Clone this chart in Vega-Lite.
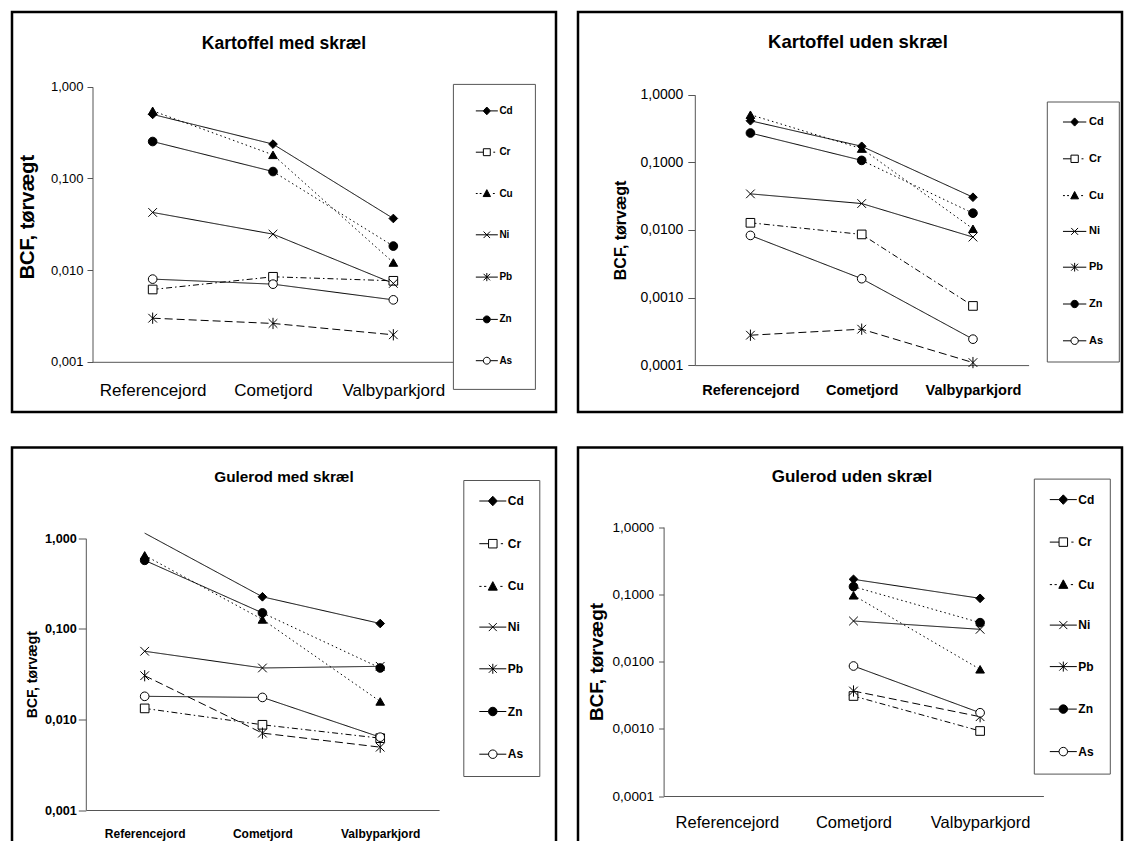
{
  "$schema": "https://vega.github.io/schema/vega-lite/v6.json",
  "background": "white",
  "padding": {"left": 10, "top": 10, "right": 0, "bottom": 0},
  "config": {
    "view": {"stroke": "black", "strokeWidth": 2.5},
    "font": "Liberation Sans",
    "locale": {"number": {"decimal": ",", "thousands": ".", "grouping": [3], "currency": ["", " kr."]}},
    "axis": {"grid": false, "domainColor": "#555", "tickColor": "#555", "labelColor": "black", "titleColor": "black", "labelFont": "Liberation Sans", "titleFont": "Liberation Sans", "domainWidth": 1, "tickWidth": 1},
    "legend": {"labelFont": "Liberation Sans", "labelColor": "black", "labelFontWeight": "bold", "strokeColor": "#555", "fillColor": "white", "symbolStrokeColor": "black", "symbolStrokeWidth": 1, "symbolOpacity": 1},
    "title": {"font": "Liberation Sans", "color": "black", "fontWeight": "bold"}
  },
  "datasets": {
    "p1": [
      {"m": "Cd", "s": "Referencejord", "v": 0.50}, {"m": "Cd", "s": "Cometjord", "v": 0.237}, {"m": "Cd", "s": "Valbyparkjord", "v": 0.0366},
      {"m": "Cr", "s": "Referencejord", "v": 0.00615}, {"m": "Cr", "s": "Cometjord", "v": 0.00846}, {"m": "Cr", "s": "Valbyparkjord", "v": 0.00765},
      {"m": "Cu", "s": "Referencejord", "v": 0.547}, {"m": "Cu", "s": "Cometjord", "v": 0.181}, {"m": "Cu", "s": "Valbyparkjord", "v": 0.0121},
      {"m": "Ni", "s": "Referencejord", "v": 0.0426}, {"m": "Ni", "s": "Cometjord", "v": 0.0247}, {"m": "Ni", "s": "Valbyparkjord", "v": 0.00716},
      {"m": "Pb", "s": "Referencejord", "v": 0.00299}, {"m": "Pb", "s": "Cometjord", "v": 0.00262}, {"m": "Pb", "s": "Valbyparkjord", "v": 0.00197},
      {"m": "Zn", "s": "Referencejord", "v": 0.253}, {"m": "Zn", "s": "Cometjord", "v": 0.119}, {"m": "Zn", "s": "Valbyparkjord", "v": 0.0183},
      {"m": "As", "s": "Referencejord", "v": 0.00798}, {"m": "As", "s": "Cometjord", "v": 0.00703}, {"m": "As", "s": "Valbyparkjord", "v": 0.00474}
    ],
    "p2": [
      {"m": "Cd", "s": "Referencejord", "v": 0.413}, {"m": "Cd", "s": "Cometjord", "v": 0.173}, {"m": "Cd", "s": "Valbyparkjord", "v": 0.0305},
      {"m": "Cr", "s": "Referencejord", "v": 0.01276}, {"m": "Cr", "s": "Cometjord", "v": 0.00859}, {"m": "Cr", "s": "Valbyparkjord", "v": 0.000751},
      {"m": "Cu", "s": "Referencejord", "v": 0.507}, {"m": "Cu", "s": "Cometjord", "v": 0.160}, {"m": "Cu", "s": "Valbyparkjord", "v": 0.0104},
      {"m": "Ni", "s": "Referencejord", "v": 0.0342}, {"m": "Ni", "s": "Cometjord", "v": 0.0246}, {"m": "Ni", "s": "Valbyparkjord", "v": 0.00784},
      {"m": "Pb", "s": "Referencejord", "v": 0.000277}, {"m": "Pb", "s": "Cometjord", "v": 0.00034}, {"m": "Pb", "s": "Valbyparkjord", "v": 0.000109},
      {"m": "Zn", "s": "Referencejord", "v": 0.272}, {"m": "Zn", "s": "Cometjord", "v": 0.107}, {"m": "Zn", "s": "Valbyparkjord", "v": 0.0177},
      {"m": "As", "s": "Referencejord", "v": 0.0083}, {"m": "As", "s": "Cometjord", "v": 0.0019}, {"m": "As", "s": "Valbyparkjord", "v": 0.000242}
    ],
    "p3": [
      {"m": "Cd", "s": "Referencejord", "v": 1.14}, {"m": "Cd", "s": "Cometjord", "v": 0.226}, {"m": "Cd", "s": "Valbyparkjord", "v": 0.1146},
      {"m": "Cr", "s": "Referencejord", "v": 0.01324}, {"m": "Cr", "s": "Cometjord", "v": 0.00873}, {"m": "Cr", "s": "Valbyparkjord", "v": 0.00621},
      {"m": "Cu", "s": "Referencejord", "v": 0.648}, {"m": "Cu", "s": "Cometjord", "v": 0.127}, {"m": "Cu", "s": "Valbyparkjord", "v": 0.0158},
      {"m": "Ni", "s": "Referencejord", "v": 0.0566}, {"m": "Ni", "s": "Cometjord", "v": 0.037}, {"m": "Ni", "s": "Valbyparkjord", "v": 0.0386},
      {"m": "Pb", "s": "Referencejord", "v": 0.0304}, {"m": "Pb", "s": "Cometjord", "v": 0.00706}, {"m": "Pb", "s": "Valbyparkjord", "v": 0.00494},
      {"m": "Zn", "s": "Referencejord", "v": 0.571}, {"m": "Zn", "s": "Cometjord", "v": 0.150}, {"m": "Zn", "s": "Valbyparkjord", "v": 0.037},
      {"m": "As", "s": "Referencejord", "v": 0.018}, {"m": "As", "s": "Cometjord", "v": 0.0175}, {"m": "As", "s": "Valbyparkjord", "v": 0.00637}
    ],
    "p4": [
      {"m": "Cd", "s": "Cometjord", "v": 0.1667}, {"m": "Cd", "s": "Valbyparkjord", "v": 0.087},
      {"m": "Cr", "s": "Cometjord", "v": 0.00307}, {"m": "Cr", "s": "Valbyparkjord", "v": 0.000926},
      {"m": "Cu", "s": "Cometjord", "v": 0.0964}, {"m": "Cu", "s": "Valbyparkjord", "v": 0.00765},
      {"m": "Ni", "s": "Cometjord", "v": 0.040}, {"m": "Ni", "s": "Valbyparkjord", "v": 0.0301},
      {"m": "Pb", "s": "Cometjord", "v": 0.00364}, {"m": "Pb", "s": "Valbyparkjord", "v": 0.00151},
      {"m": "Zn", "s": "Cometjord", "v": 0.1297}, {"m": "Zn", "s": "Valbyparkjord", "v": 0.0378},
      {"m": "As", "s": "Cometjord", "v": 0.00857}, {"m": "As", "s": "Valbyparkjord", "v": 0.00173}
    ]
  },
  "spacing": 31.5,
  "resolve": {"scale": {"shape": "independent", "fill": "independent", "strokeDash": "independent"}, "legend": {"shape": "independent", "fill": "independent", "strokeDash": "independent"}},
  "vconcat": [
    {
      "spacing": 22,
      "bounds": "flush",
      "resolve": {"scale": {"shape": "independent", "fill": "independent", "strokeDash": "independent"}, "legend": {"shape": "independent", "fill": "independent", "strokeDash": "independent"}},
      "hconcat": [
        {
          "width": 544, "height": 400,
          "title": {"text": "Kartoffel med skræl", "fontSize": 17.5, "anchor": "middle", "frame": "group", "baseline": "middle", "offset": -49},
          "data": {"name": "p1"},
          "encoding": {
            "x": {"field": "s", "type": "nominal", "scale": {"type": "point", "domain": ["Referencejord", "Cometjord", "Valbyparkjord"], "range": [80.5, 441.5], "padding": 0.5},
              "axis": {"title": null, "offset": -50.2, "ticks": false, "tickSize": 0, "labelPadding": 29, "labelBaseline": "middle", "labelFontSize": 17, "labelAngle": 0}},
            "y": {"field": "v", "type": "quantitative", "scale": {"type": "log", "domain": [0.001, 1], "range": [349.8, 74.8], "nice": false},
              "axis": {"title": "BCF, tørvægt", "titleY": 204.6, "values": [0.001, 0.01, 0.1, 1], "format": ".3f", "offset": -80.5, "tickSize": 5.5, "labelPadding": 4, "labelFontSize": 13, "titleFontSize": 20, "titleFontWeight": "bold", "titlePadding": 13}}
          },
          "layer": [
            {"transform": [{"filter": "!(datum.m == 'Zn' && datum.s == 'Valbyparkjord')"}],
             "mark": {"type": "line", "color": "black", "strokeWidth": 1},
             "encoding": {"strokeDash": {"field": "m", "type": "nominal", "legend": null, "scale": {"domain": ["Cd", "Ni", "Zn", "As", "Cr", "Cu", "Pb"], "range": [[1, 0], [1, 0], [1, 0], [1, 0], [6, 3, 1.5, 3], [1.5, 3], [8, 4]]}}}},
            {"transform": [{"filter": "datum.m == 'Zn' && datum.s != 'Referencejord'"}],
             "mark": {"type": "line", "color": "black", "strokeWidth": 1, "strokeDash": [1.5, 3]},
             "encoding": {}},
            {"transform": [{"filter": "datum.v <= 1"}],
             "mark": {"type": "point", "size": 75, "stroke": "black", "strokeWidth": 1, "opacity": 1, "fillOpacity": 1},
             "encoding": {
               "shape": {"field": "m", "type": "nominal", "legend": null, "scale": {"domain": ["Cr", "Cd", "Cu", "Ni", "Pb", "Zn", "As"], "range": ["square", "diamond", "triangle-up", "M-1,-1L1,1M-1,1L1,-1", "M-1,-1L1,1M-1,1L1,-1M0,-1.3V1.3", "circle", "circle"]}},
               "fill": {"field": "m", "type": "nominal", "scale": {"domain": ["Cd", "Cr", "Cu", "Ni", "Pb", "Zn", "As"], "range": ["black", "white", "black", "white", "white", "black", "white"]},
                 "legend": {"title": null, "orient": "none", "legendX": 440.9, "legendY": 71.9, "padding": 22, "symbolSize": 66.3, "labelFontSize": 10, "labelOffset": 14.5, "rowPadding": 29.3,
                   "symbolType": {"expr": "['M-1,0H0.8M1.7,-0.95L2.6,0L1.7,0.95L0.8,0ZM2.6,0H4.4','M-1,0H0.85M0.85,-0.85H2.55V0.85H0.85ZM3.3,0H3.75','M-1,0H-0.55M-0.05,0H0.4M1.7,-0.95L2.6,0.75H0.8ZM3.2,0H3.65','M-1,0H4.4M0.9,-0.8L2.5,0.8M0.9,0.8L2.5,-0.8','M-1,0H4.4M0.9,-0.8L2.5,0.8M0.9,0.8L2.5,-0.8M1.7,-1V1','M-1,0H0.85M0.85,0A0.85,0.85 0 1,0 2.55,0A0.85,0.85 0 1,0 0.85,0ZM2.55,0H4.4','M-1,0H0.85M0.85,0A0.85,0.85 0 1,0 2.55,0A0.85,0.85 0 1,0 0.85,0ZM2.55,0H4.4'][indexof(['Cd','Cr','Cu','Ni','Pb','Zn','As'], datum.value)]"}}}
             }}
          ]
        },
        {
          "width": 544, "height": 400,
          "title": {"text": "Kartoffel uden skræl", "fontSize": 18.5, "anchor": "middle", "frame": "group", "baseline": "middle", "offset": -48.25, "dx": 8},
          "data": {"name": "p2"},
          "encoding": {
            "x": {"field": "s", "type": "nominal", "scale": {"type": "point", "domain": ["Referencejord", "Cometjord", "Valbyparkjord"], "range": [116.8, 450.6], "padding": 0.5},
              "axis": {"title": null, "offset": -46.9, "ticks": false, "tickSize": 0, "labelPadding": 25, "labelBaseline": "middle", "labelFontSize": 14.5, "labelFontWeight": "bold", "labelAngle": 0}},
            "y": {"field": "v", "type": "quantitative", "scale": {"type": "log", "domain": [0.0001, 1], "range": [353.1, 82.8], "nice": false},
              "axis": {"title": "BCF, tørvægt", "values": [0.0001, 0.001, 0.01, 0.1, 1], "format": ".4f", "offset": -116.8, "tickSize": 7, "labelPadding": 5, "labelFontSize": 14, "titleFontSize": 16, "titleFontWeight": "bold", "titlePadding": 11}}
          },
          "layer": [
            {"transform": [{"filter": "!(datum.m == 'Zn' && datum.s == 'Valbyparkjord')"}],
             "mark": {"type": "line", "color": "black", "strokeWidth": 1},
             "encoding": {"strokeDash": {"field": "m", "type": "nominal", "legend": null, "scale": {"domain": ["Cd", "Ni", "Zn", "As", "Cr", "Cu", "Pb"], "range": [[1, 0], [1, 0], [1, 0], [1, 0], [6, 3, 1.5, 3], [1.5, 3], [8, 4]]}}}},
            {"transform": [{"filter": "datum.m == 'Zn' && datum.s != 'Referencejord'"}],
             "mark": {"type": "line", "color": "black", "strokeWidth": 1, "strokeDash": [1.5, 3]},
             "encoding": {}},
            {"transform": [{"filter": "datum.v <= 1"}],
             "mark": {"type": "point", "size": 75, "stroke": "black", "strokeWidth": 1, "opacity": 1, "fillOpacity": 1},
             "encoding": {
               "shape": {"field": "m", "type": "nominal", "legend": null, "scale": {"domain": ["Cr", "Cd", "Cu", "Ni", "Pb", "Zn", "As"], "range": ["square", "diamond", "triangle-up", "M-1,-1L1,1M-1,1L1,-1", "M-1,-1L1,1M-1,1L1,-1M0,-1.3V1.3", "circle", "circle"]}},
               "fill": {"field": "m", "type": "nominal", "scale": {"domain": ["Cd", "Cr", "Cu", "Ni", "Pb", "Zn", "As"], "range": ["black", "white", "black", "white", "white", "black", "white"]},
                 "legend": {"title": null, "orient": "none", "legendX": 468.8, "legendY": 89.5, "padding": 15, "symbolSize": 74.5, "labelFontSize": 11, "labelOffset": 16.2, "rowPadding": 23.8,
                   "symbolType": {"expr": "['M-1,0H0.8M1.7,-0.95L2.6,0L1.7,0.95L0.8,0ZM2.6,0H4.4','M-1,0H0.85M0.85,-0.85H2.55V0.85H0.85ZM3.3,0H3.75','M-1,0H-0.55M-0.05,0H0.4M1.7,-0.95L2.6,0.75H0.8ZM3.2,0H3.65','M-1,0H4.4M0.9,-0.8L2.5,0.8M0.9,0.8L2.5,-0.8','M-1,0H4.4M0.9,-0.8L2.5,0.8M0.9,0.8L2.5,-0.8M1.7,-1V1','M-1,0H0.85M0.85,0A0.85,0.85 0 1,0 2.55,0A0.85,0.85 0 1,0 0.85,0ZM2.55,0H4.4','M-1,0H0.85M0.85,0A0.85,0.85 0 1,0 2.55,0A0.85,0.85 0 1,0 0.85,0ZM2.55,0H4.4'][indexof(['Cd','Cr','Cu','Ni','Pb','Zn','As'], datum.value)]"}}}
             }}
          ]
        }
      ]
    },
    {
      "spacing": 22,
      "bounds": "flush",
      "resolve": {"scale": {"shape": "independent", "fill": "independent", "strokeDash": "independent"}, "legend": {"shape": "independent", "fill": "independent", "strokeDash": "independent"}},
      "hconcat": [
        {
          "width": 544, "height": 395,
          "title": {"text": "Gulerod med skræl", "fontSize": 15.3, "anchor": "middle", "frame": "group", "baseline": "middle", "offset": -44.85},
          "data": {"name": "p3"},
          "encoding": {
            "x": {"field": "s", "type": "nominal", "scale": {"type": "point", "domain": ["Referencejord", "Cometjord", "Valbyparkjord"], "range": [73.8, 427.1], "padding": 0.5},
              "axis": {"title": null, "offset": -32.5, "ticks": false, "tickSize": 0, "labelPadding": 23, "labelBaseline": "middle", "labelFontSize": 12, "labelFontWeight": "bold", "labelAngle": 0}},
            "y": {"field": "v", "type": "quantitative", "scale": {"type": "log", "domain": [0.001, 1], "range": [362.5, 90.8], "nice": false},
              "axis": {"title": "BCF, tørvægt", "values": [0.001, 0.01, 0.1, 1], "format": ".3f", "offset": -73.8, "tickSize": 7.5, "labelPadding": 2, "labelFontSize": 12.7, "labelFontWeight": "bold", "titleFontSize": 14, "titleFontWeight": "bold", "titlePadding": 5.5}}
          },
          "layer": [
            {"transform": [{"filter": "!(datum.m == 'Zn' && datum.s == 'Valbyparkjord')"}],
             "mark": {"type": "line", "color": "black", "strokeWidth": 1},
             "encoding": {"strokeDash": {"field": "m", "type": "nominal", "legend": null, "scale": {"domain": ["Cd", "Ni", "Zn", "As", "Cr", "Cu", "Pb"], "range": [[1, 0], [1, 0], [1, 0], [1, 0], [6, 3, 1.5, 3], [1.5, 3], [8, 4]]}}}},
            {"transform": [{"filter": "datum.m == 'Zn' && datum.s != 'Referencejord'"}],
             "mark": {"type": "line", "color": "black", "strokeWidth": 1, "strokeDash": [1.5, 3]},
             "encoding": {}},
            {"transform": [{"filter": "datum.v <= 1"}],
             "mark": {"type": "point", "size": 75, "stroke": "black", "strokeWidth": 1, "opacity": 1, "fillOpacity": 1},
             "encoding": {
               "shape": {"field": "m", "type": "nominal", "legend": null, "scale": {"domain": ["Cr", "Cd", "Cu", "Ni", "Pb", "Zn", "As"], "range": ["square", "diamond", "triangle-up", "M-1,-1L1,1M-1,1L1,-1", "M-1,-1L1,1M-1,1L1,-1M0,-1.3V1.3", "circle", "circle"]}},
               "fill": {"field": "m", "type": "nominal", "scale": {"domain": ["Cd", "Cr", "Cu", "Ni", "Pb", "Zn", "As"], "range": ["black", "white", "black", "white", "white", "black", "white"]},
                 "legend": {"title": null, "orient": "none", "legendX": 451.3, "legendY": 32.5, "padding": 15, "symbolSize": 100, "labelFontSize": 12, "labelOffset": 17.5, "rowPadding": 28.7,
                   "symbolType": {"expr": "['M-1,0H0.8M1.7,-0.95L2.6,0L1.7,0.95L0.8,0ZM2.6,0H4.4','M-1,0H0.85M0.85,-0.85H2.55V0.85H0.85ZM3.3,0H3.75','M-1,0H-0.55M-0.05,0H0.4M1.7,-0.95L2.6,0.75H0.8ZM3.2,0H3.65','M-1,0H4.4M0.9,-0.8L2.5,0.8M0.9,0.8L2.5,-0.8','M-1,0H4.4M0.9,-0.8L2.5,0.8M0.9,0.8L2.5,-0.8M1.7,-1V1','M-1,0H0.85M0.85,0A0.85,0.85 0 1,0 2.55,0A0.85,0.85 0 1,0 0.85,0ZM2.55,0H4.4','M-1,0H0.85M0.85,0A0.85,0.85 0 1,0 2.55,0A0.85,0.85 0 1,0 0.85,0ZM2.55,0H4.4'][indexof(['Cd','Cr','Cu','Ni','Pb','Zn','As'], datum.value)]"}}}
             }}
          ]
        },
        {
          "width": 544, "height": 395,
          "title": {"text": "Gulerod uden skræl", "fontSize": 17, "anchor": "middle", "frame": "group", "baseline": "middle", "offset": -46.9, "dx": 2},
          "data": {"name": "p4"},
          "encoding": {
            "x": {"field": "s", "type": "nominal", "scale": {"type": "point", "domain": ["Referencejord", "Cometjord", "Valbyparkjord"], "range": [85.6, 465.4], "padding": 0.5},
              "axis": {"title": null, "offset": -46.5, "ticks": false, "tickSize": 0, "labelPadding": 26.6, "labelBaseline": "middle", "labelFontSize": 16.5, "labelAngle": 0}},
            "y": {"field": "v", "type": "quantitative", "scale": {"type": "log", "domain": [0.0001, 1], "range": [348.5, 79.5], "nice": false},
              "axis": {"title": "BCF, tørvægt", "values": [0.0001, 0.001, 0.01, 0.1, 1], "format": ".4f", "offset": -85.6, "tickSize": 5, "labelPadding": 5, "labelFontSize": 13.6, "titleFontSize": 19, "titleFontWeight": "bold", "titlePadding": 6}}
          },
          "layer": [
            {"transform": [{"filter": "!(datum.m == 'Zn' && datum.s == 'Valbyparkjord')"}],
             "mark": {"type": "line", "color": "black", "strokeWidth": 1},
             "encoding": {"strokeDash": {"field": "m", "type": "nominal", "legend": null, "scale": {"domain": ["Cd", "Ni", "Zn", "As", "Cr", "Cu", "Pb"], "range": [[1, 0], [1, 0], [1, 0], [1, 0], [6, 3, 1.5, 3], [1.5, 3], [8, 4]]}}}},
            {"transform": [{"filter": "datum.m == 'Zn' && datum.s != 'Referencejord'"}],
             "mark": {"type": "line", "color": "black", "strokeWidth": 1, "strokeDash": [1.5, 3]},
             "encoding": {}},
            {"transform": [{"filter": "datum.v <= 1"}],
             "mark": {"type": "point", "size": 75, "stroke": "black", "strokeWidth": 1, "opacity": 1, "fillOpacity": 1},
             "encoding": {
               "shape": {"field": "m", "type": "nominal", "legend": null, "scale": {"domain": ["Cr", "Cd", "Cu", "Ni", "Pb", "Zn", "As"], "range": ["square", "diamond", "triangle-up", "M-1,-1L1,1M-1,1L1,-1", "M-1,-1L1,1M-1,1L1,-1M0,-1.3V1.3", "circle", "circle"]}},
               "fill": {"field": "m", "type": "nominal", "scale": {"domain": ["Cd", "Cr", "Cu", "Ni", "Pb", "Zn", "As"], "range": ["black", "white", "black", "white", "white", "black", "white"]},
                 "legend": {"title": null, "orient": "none", "legendX": 455.8, "legendY": 31.1, "padding": 15, "symbolSize": 100, "labelFontSize": 12, "labelOffset": 17.5, "rowPadding": 28.5,
                   "symbolType": {"expr": "['M-1,0H0.8M1.7,-0.95L2.6,0L1.7,0.95L0.8,0ZM2.6,0H4.4','M-1,0H0.85M0.85,-0.85H2.55V0.85H0.85ZM3.3,0H3.75','M-1,0H-0.55M-0.05,0H0.4M1.7,-0.95L2.6,0.75H0.8ZM3.2,0H3.65','M-1,0H4.4M0.9,-0.8L2.5,0.8M0.9,0.8L2.5,-0.8','M-1,0H4.4M0.9,-0.8L2.5,0.8M0.9,0.8L2.5,-0.8M1.7,-1V1','M-1,0H0.85M0.85,0A0.85,0.85 0 1,0 2.55,0A0.85,0.85 0 1,0 0.85,0ZM2.55,0H4.4','M-1,0H0.85M0.85,0A0.85,0.85 0 1,0 2.55,0A0.85,0.85 0 1,0 0.85,0ZM2.55,0H4.4'][indexof(['Cd','Cr','Cu','Ni','Pb','Zn','As'], datum.value)]"}}}
             }}
          ]
        }
      ]
    }
  ]
}
